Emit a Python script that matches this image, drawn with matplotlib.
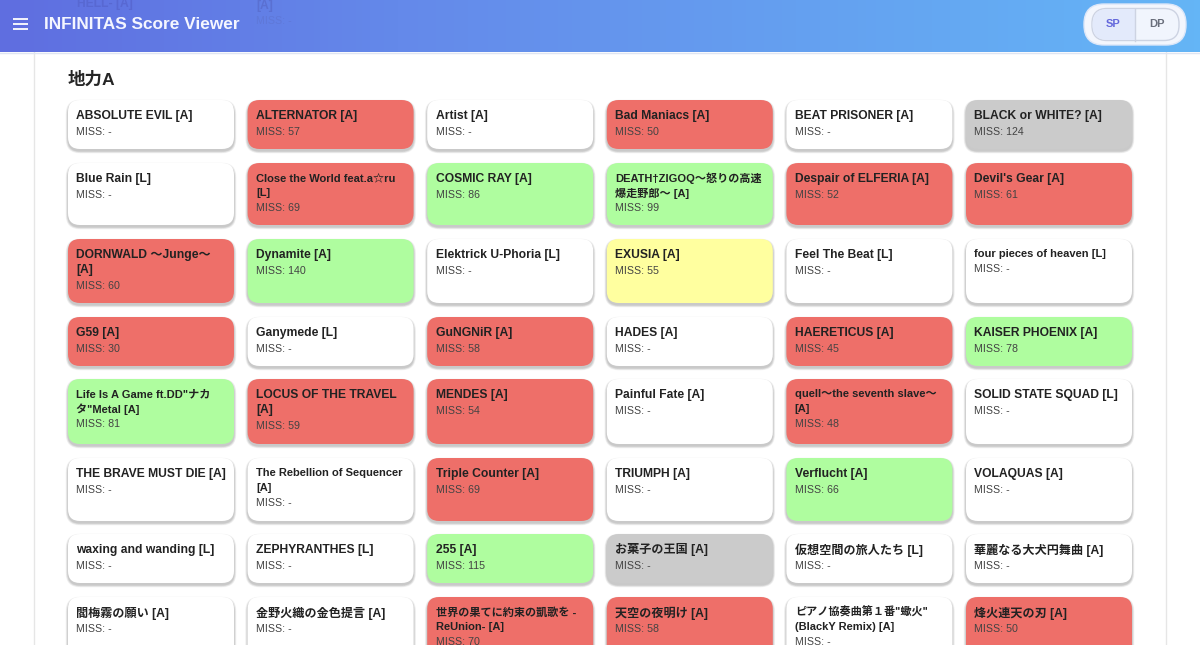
import numpy as np
import matplotlib
matplotlib.use('Agg')
import matplotlib.pyplot as plt
from matplotlib.patches import FancyBboxPatch, Rectangle
from matplotlib.colors import LinearSegmentedColormap

plt.rcParams['font.family'] = ['Liberation Sans', 'Noto Sans CJK JP', 'DejaVu Sans']

titles = [
    'ABSOLUTE EVIL [A]', 'ALTERNATOR [A]', 'Artist [A]', 'Bad Maniacs [A]', 'BEAT PRISONER [A]', 'BLACK or WHITE? [A]',
    'Blue Rain [L]', 'Close the World feat.a☆ru\n[L]', 'COSMIC RAY [A]', 'DEATH†ZIGOQ〜怒りの高速\n爆走野郎〜 [A]', 'Despair of ELFERIA [A]', "Devil's Gear [A]",
    'DORNWALD 〜Junge〜\n[A]', 'Dynamite [A]', 'Elektrick U-Phoria [L]', 'EXUSIA [A]', 'Feel The Beat [L]', 'four pieces of heaven [L]',
    'G59 [A]', 'Ganymede [L]', 'GuNGNiR [A]', 'HADES [A]', 'HAERETICUS [A]', 'KAISER PHOENIX [A]',
    'Life Is A Game ft.DD"ナカ\nタ"Metal [A]', 'LOCUS OF THE TRAVEL\n[A]', 'MENDES [A]', 'Painful Fate [A]', 'quell〜the seventh slave〜\n[A]', 'SOLID STATE SQUAD [L]',
    'THE BRAVE MUST DIE [A]', 'The Rebellion of Sequencer\n[A]', 'Triple Counter [A]', 'TRIUMPH [A]', 'Verflucht [A]', 'VOLAQUAS [A]',
    'waxing and wanding [L]', 'ZEPHYRANTHES [L]', '255 [A]', 'お菓子の王国 [A]', '仮想空間の旅人たち [L]', '華麗なる大犬円舞曲 [A]',
    '閻梅霧の願い [A]', '金野火織の金色提言 [A]', '世界の果てに約束の凱歌を -\nReUnion- [A]', '天空の夜明け [A]', 'ピアノ協奏曲第１番"蠍火"\n(BlackY Remix) [A]', '烽火連天の刃 [A]',
]
miss = [
    '-', '57', '-', '50', '-', '124',
    '-', '69', '86', '99', '52', '61',
    '60', '140', '-', '55', '-', '-',
    '30', '-', '58', '-', '45', '78',
    '81', '59', '54', '-', '48', '-',
    '-', '-', '69', '-', '66', '-',
    '-', '-', '115', '-', '-', '-',
    '-', '-', '70', '58', '-', '50',
]
status = [
    'w', 'r', 'w', 'r', 'w', 'k',
    'w', 'r', 'g', 'g', 'r', 'r',
    'r', 'g', 'w', 'y', 'w', 'w',
    'r', 'w', 'r', 'w', 'r', 'g',
    'g', 'r', 'r', 'w', 'r', 'w',
    'w', 'w', 'r', 'w', 'g', 'w',
    'w', 'w', 'g', 'k', 'w', 'w',
    'w', 'w', 'r', 'r', 'w', 'r',
]
small_titles = [7, 9, 17, 24, 28, 31, 44, 46]

colors = {'w': '#ffffff', 'r': '#ee6f69', 'g': '#affd9f', 'y': '#ffff9f', 'k': '#cbcbcb'}
col_x = [68, 247.6, 427.2, 606.8, 786.4, 966]
row_y = [100, 163, 239, 317, 379, 458, 534, 597]
row_h = [49, 62, 64, 49, 65, 63, 49, 62]
card_w = 166

fig = plt.figure(figsize=(12, 6.45), dpi=100)
ax = fig.add_axes([0, 0, 1, 1])
ax.set_xlim(0, 1200)
ax.set_ylim(645, 0)
ax.axis('off')


def rounded(x, y, w, h, r, **kw):
    p = FancyBboxPatch((x + r, y + r), w - 2 * r, h - 2 * r,
                       boxstyle='round,pad=%f,rounding_size=%f' % (r, r), **kw)
    ax.add_patch(p)
    return p


# page frame
ax.plot([34, 34], [50, 645], color='#e6e6e6', lw=1, zorder=1)
ax.plot([1166, 1166], [50, 645], color='#e6e6e6', lw=1, zorder=1)
ax.text(68, 80, '地力A', fontsize=12.6, fontweight='bold', color='#262626', va='center', zorder=3)

# cards
for i in range(len(titles)):
    c = i % 6
    r = i // 6
    x = col_x[c]
    y = row_y[r]
    h = row_h[r]
    # soft shadow, mostly under the card
    for k in range(8, 0, -1):
        rounded(x - k * 0.3, y + 2 - k * 0.3, card_w + k * 0.6, h + k * 0.6, 12 + k * 0.3,
                fc='#000000', ec='none', alpha=0.028, zorder=2)
    rounded(x, y, card_w, h, 12, fc=colors[status[i]], ec='none', zorder=3)
    is_small = i in small_titles
    fs = 8.0 if is_small else 8.7
    ty = y + (15 if is_small else 16)
    for line in titles[i].split('\n'):
        ax.text(x + 8.4, ty, line, fontsize=fs, fontweight='bold', color='#222222', va='center', zorder=4)
        ty += 15 if is_small else 15.5
    ax.text(x + 8.4, ty + 0.3, 'MISS: ' + miss[i], fontsize=7.7, color='#434343', va='center', zorder=4)

# header bar
cmap = LinearSegmentedColormap.from_list('head', ['#5f6ee0', '#6489ea', '#64a0f0', '#64b5f6'])
grad = np.linspace(0, 1, 600).reshape(1, -1)
ax.imshow(grad, extent=[0, 1200, 52, 0], cmap=cmap, aspect='auto', zorder=5)
ax.set_xlim(0, 1200)
ax.set_ylim(645, 0)
ax.plot([0, 1200], [52.5, 52.5], color='#dfe5f2', lw=1, zorder=5)

# things scrolled under the header
ax.text(77, 4.5, 'HELL- [A]', fontsize=8.7, fontweight='bold', color='#5868d2', va='center', zorder=6)
ax.text(256, 6, '[A]', fontsize=8.7, fontweight='bold', color='#5a70d2', va='center', zorder=6)
ax.text(256, 21, 'MISS: -', fontsize=7.7, color='#5f78d8', va='center', zorder=6)

for yy in [19.3, 24.3, 29.3]:
    ax.plot([13, 28], [yy, yy], color='white', lw=1.3, solid_capstyle='butt', zorder=6)
ax.text(44, 24.5, 'INFINITAS Score Viewer', fontsize=12.45, fontweight='bold', color='#f4f6ff', va='center', zorder=6)

# SP / DP toggle
rounded(1084, 4, 102, 41, 20, fc='#f3f6fd', ec='#dbe6f8', lw=1, zorder=6)
rounded(1092, 8.5, 87, 32, 15, fc='#f1f5fd', ec='#cdd3e2', lw=1, zorder=7)
left = Rectangle((1092, 8.5), 43, 32, fc='#e3eafb', ec='none', zorder=7)
ax.add_patch(left)
clip = rounded(1092.5, 9, 86, 31, 15, fc='none', ec='none')
left.set_clip_path(clip)
ax.plot([1134.5, 1134.5], [8.5, 40.5], color='#cdd3e2', lw=1, zorder=8)
ax.text(1113, 24, 'SP', fontsize=8, fontweight='bold', color='#6468dc', ha='center', va='center', zorder=8)
ax.text(1156.5, 24, 'DP', fontsize=8, fontweight='bold', color='#6a6f7c', ha='center', va='center', zorder=8)

fig.savefig('out.png', dpi=100)
